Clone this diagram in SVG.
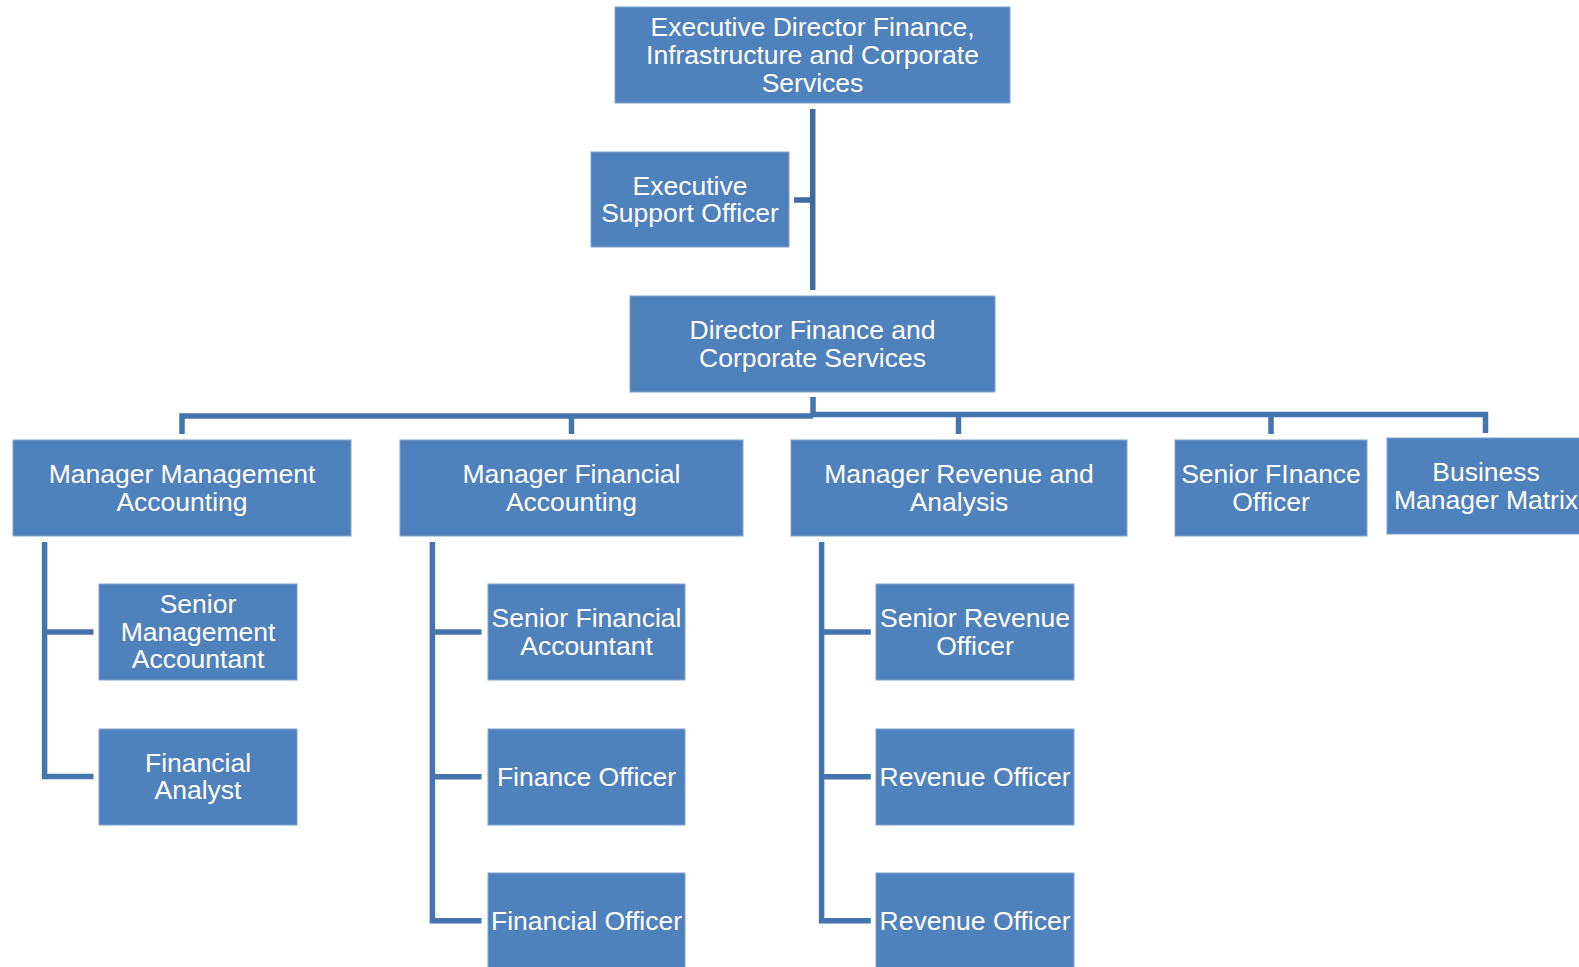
<svg xmlns="http://www.w3.org/2000/svg" width="1579" height="967" viewBox="0 0 1579 967">
<style>
.box{fill:#4F81BD;stroke:#7FA2CF;stroke-width:1}
.t{font-family:"Liberation Sans",Arial,sans-serif;font-size:26.5px;fill:#FFFFFF;text-anchor:middle}
.ln{fill:none;stroke:#4675AE;stroke-width:5.5;stroke-linejoin:miter;stroke-linecap:butt}
.ln2{fill:none;stroke:#3F6B9F;stroke-width:5.5}
</style>
<rect width="1579" height="967" fill="#FFFFFF"/>
<g id="connectors">
<path class="ln2" d="M812.7 109 V290 M794 200 H812.7"/>
<path class="ln" d="M813 397 V416"/>
<path class="ln" d="M182 434 V416 H813"/>
<path class="ln" d="M571.5 416 V434"/>
<path class="ln" d="M813 414.5 H1485.5 V433"/>
<path class="ln" d="M958.5 414.5 V434"/>
<path class="ln" d="M1271 414.5 V434"/>
<path class="ln" d="M44.6 542 V776.5 H93.5 M44.6 632 H93.5"/>
<path class="ln" d="M432.4 542 V920.7 H481.5 M432.4 632 H481.5 M432.4 776.7 H481.5"/>
<path class="ln" d="M821.6 542 V920.7 H870.8 M821.6 632 H870.8 M821.6 776.7 H870.8"/>
</g>
<g id="exec-director">
<rect class="box" x="615" y="7" width="395" height="96"/>
<text class="t" x="812.5" y="36.3">Executive Director Finance,</text>
<text class="t" x="812.5" y="63.9">Infrastructure and Corporate</text>
<text class="t" x="812.5" y="91.5">Services</text>
</g>
<g id="exec-support">
<rect class="box" x="591" y="152" width="198" height="95"/>
<text class="t" x="690" y="194.5">Executive</text>
<text class="t" x="690" y="222.1">Support Officer</text>
</g>
<g id="director">
<rect class="box" x="630" y="296" width="365" height="96"/>
<text class="t" x="812.5" y="339">Director Finance and</text>
<text class="t" x="812.5" y="366.6">Corporate Services</text>
</g>
<g id="mgr-mgmt-accounting">
<rect class="box" x="13" y="440" width="338" height="96"/>
<text class="t" x="182" y="483">Manager Management</text>
<text class="t" x="182" y="510.6">Accounting</text>
</g>
<g id="mgr-fin-accounting">
<rect class="box" x="400" y="440" width="343" height="96"/>
<text class="t" x="571.5" y="483">Manager Financial</text>
<text class="t" x="571.5" y="510.6">Accounting</text>
</g>
<g id="mgr-revenue">
<rect class="box" x="791" y="440" width="336" height="96"/>
<text class="t" x="959" y="483">Manager Revenue and</text>
<text class="t" x="959" y="510.6">Analysis</text>
</g>
<g id="senior-finance-officer">
<rect class="box" x="1175" y="440" width="192" height="96"/>
<text class="t" x="1271" y="483">Senior FInance</text>
<text class="t" x="1271" y="510.6">Officer</text>
</g>
<g id="business-manager">
<rect class="box" x="1387" y="438" width="198" height="96"/>
<text class="t" x="1486" y="481">Business</text>
<text class="t" x="1486" y="508.6">Manager Matrix</text>
</g>
<g id="senior-mgmt-accountant">
<rect class="box" x="99" y="584" width="198" height="96"/>
<text class="t" x="198" y="613.2">Senior</text>
<text class="t" x="198" y="640.8">Management</text>
<text class="t" x="198" y="668.4">Accountant</text>
</g>
<g id="financial-analyst">
<rect class="box" x="99" y="729" width="198" height="96"/>
<text class="t" x="198" y="771.8">Financial</text>
<text class="t" x="198" y="799.4">Analyst</text>
</g>
<g id="senior-fin-accountant">
<rect class="box" x="488" y="584" width="197" height="96"/>
<text class="t" x="586.5" y="627">Senior Financial</text>
<text class="t" x="586.5" y="654.6">Accountant</text>
</g>
<g id="finance-officer">
<rect class="box" x="488" y="729" width="197" height="96"/>
<text class="t" x="586.5" y="785.8">Finance Officer</text>
</g>
<g id="financial-officer">
<rect class="box" x="488" y="873" width="197" height="96"/>
<text class="t" x="586.5" y="929.8">Financial Officer</text>
</g>
<g id="senior-revenue-officer">
<rect class="box" x="876" y="584" width="198" height="96"/>
<text class="t" x="975" y="627">Senior Revenue</text>
<text class="t" x="975" y="654.6">Officer</text>
</g>
<g id="revenue-officer-1">
<rect class="box" x="876" y="729" width="198" height="96"/>
<text class="t" x="975" y="785.8">Revenue Officer</text>
</g>
<g id="revenue-officer-2">
<rect class="box" x="876" y="873" width="198" height="96"/>
<text class="t" x="975" y="929.8">Revenue Officer</text>
</g>
</svg>
